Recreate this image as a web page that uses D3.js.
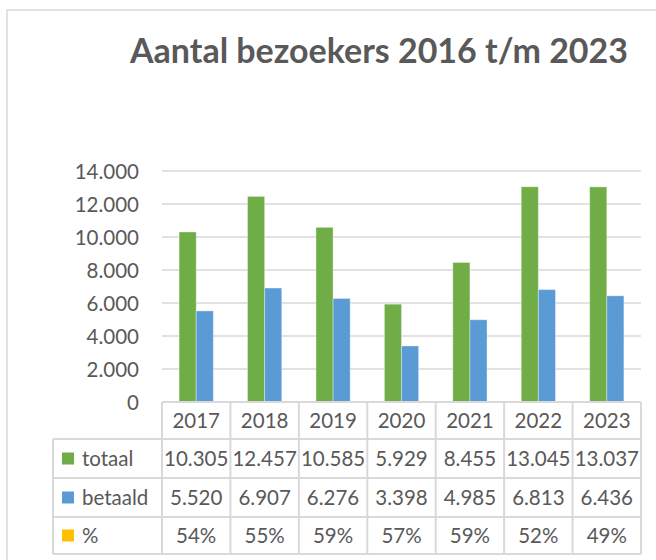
<!DOCTYPE html>
<html><head><meta charset="utf-8">
<script src="https://cdn.jsdelivr.net/npm/d3@7"></script>
<style>body{margin:0;background:#fff}svg{display:block}text{font-family:Lato,"Open Sans",sans-serif;fill:#595959}</style>
</head><body>
<svg id="c" width="656" height="560"></svg>
<script>
const years = ["2017","2018","2019","2020","2021","2022","2023"];
const totaal = [10305,12457,10585,5929,8455,13045,13037];
const betaald = [5520,6907,6276,3398,4985,6813,6436];
const percent = ["54%","55%","59%","57%","59%","52%","49%"];
const seriesNames = ["totaal","betaald","%"];
const seriesColors = ["#70ad47","#5b9bd5","#ffc000"];
const yTicks = [0,2000,4000,6000,8000,10000,12000,14000];
const title = "Aantal bezoekers 2016 t/m 2023";

const svg = d3.select("#c");
const loc = d3.formatLocale({decimal:",",thousands:".",grouping:[3],currency:["",""]});
const fmt = loc.format(",d");
const grid = "#d9d9d9";
const fs = 20.5;

// frame
svg.append("rect").attr("x",7).attr("y",10).attr("width",700).attr("height",600)
  .attr("fill","none").attr("stroke","#d9d9d9").attr("stroke-width",1.5);

// title
const t = svg.append("text").attr("x",379).attr("y",63).attr("text-anchor","middle")
  .attr("font-weight","bold").attr("font-size",28).text(title);
const tw = t.node().getComputedTextLength();
t.attr("font-size", 28*498/tw);

const pLeft = 162, pRight = 641, pTop = 171, pBase = 402;
const x = d3.scaleBand().domain(years).range([pLeft,pRight]);
const y = d3.scaleLinear().domain([0,14000]).range([pBase,pTop]);
const xs = d3.scaleBand().domain(["totaal","betaald"]).range([0,x.bandwidth()]).paddingOuter(1).paddingInner(0);

// gridlines
svg.append("g").selectAll("line").data(yTicks.filter(d=>d>0)).join("line")
  .attr("x1",pLeft).attr("x2",pRight).attr("y1",d=>y(d)).attr("y2",d=>y(d))
  .attr("stroke",grid).attr("stroke-width",1.5);

// y axis labels
const yAxis = d3.axisLeft(y).tickValues(yTicks).tickFormat(fmt).tickSize(0).tickPadding(0);
const ga = svg.append("g").attr("transform",`translate(139,0)`).call(yAxis);
ga.select(".domain").remove();
ga.selectAll("text").attr("font-size",fs).attr("font-family","Lato").attr("fill","#595959").attr("dy","0.35em");

// bars
const data = years.map((yr,i)=>({yr, vals:[{k:"totaal",v:totaal[i],c:seriesColors[0]},{k:"betaald",v:betaald[i],c:seriesColors[1]}]}));
svg.append("g").selectAll("g").data(data).join("g")
  .attr("transform",d=>`translate(${x(d.yr)},0)`)
  .selectAll("rect").data(d=>d.vals).join("rect")
  .attr("x",d=>xs(d.k)).attr("width",xs.bandwidth())
  .attr("y",d=>y(d.v)).attr("height",d=>pBase-y(d.v))
  .attr("fill",d=>d.c).attr("stroke","rgba(255,255,255,0.35)").attr("stroke-width",1);

// table
const rowsY = [pBase, 439, 478, 517, 554];
const tableLeft = 53;
const tg = svg.append("g");
tg.append("line").attr("x1",pLeft).attr("x2",pRight).attr("y1",pBase).attr("y2",pBase).attr("stroke",grid).attr("stroke-width",2);
rowsY.slice(1).forEach(yy=>{
  tg.append("line").attr("x1",tableLeft).attr("x2",pRight).attr("y1",yy).attr("y2",yy).attr("stroke",grid).attr("stroke-width",2);
});
const vx = years.map(d=>x(d)).concat([pRight]);
vx.forEach(xx=>{
  tg.append("line").attr("x1",xx).attr("x2",xx).attr("y1",pBase).attr("y2",rowsY[4]).attr("stroke",grid).attr("stroke-width",2);
});
tg.append("line").attr("x1",tableLeft).attr("x2",tableLeft).attr("y1",rowsY[1]).attr("y2",rowsY[4]).attr("stroke",grid).attr("stroke-width",2);

tg.selectAll("text.yr").data(years).join("text").attr("class","yr")
  .attr("x",d=>x(d)+x.bandwidth()/2).attr("y",(rowsY[0]+rowsY[1])/2).attr("dy","0.35em")
  .attr("text-anchor","middle").attr("font-size",fs).text(d=>d);

const rows = [totaal.map(fmt), betaald.map(fmt), percent];
rows.forEach((r,ri)=>{
  const cy = (rowsY[ri+1]+rowsY[ri+2])/2;
  tg.append("rect").attr("x",62).attr("y",cy-6).attr("width",12).attr("height",12).attr("fill",seriesColors[ri]);
  tg.append("text").attr("x",82).attr("y",cy).attr("dy","0.35em").attr("font-size",fs).text(seriesNames[ri]);
  tg.selectAll(null).data(r).join("text")
    .attr("x",(d,i)=>x(years[i])+x.bandwidth()/2).attr("y",cy).attr("dy","0.35em")
    .attr("text-anchor","middle").attr("font-size",fs).text(d=>d);
});
</script>
</body></html>
